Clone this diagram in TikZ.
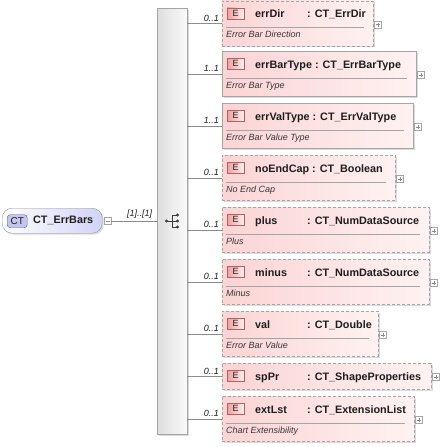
\documentclass[tikz,border=0pt]{standalone}
\usepackage{fontspec}
\setmainfont{Liberation Sans}
\usetikzlibrary{positioning, shadows, calc}
\definecolor{figBd}{RGB}{165,165,165}
\definecolor{figLn}{RGB}{140,140,140}
\definecolor{figPk}{RGB}{251,212,212}
\definecolor{figPkL}{RGB}{255,242,242}
\definecolor{figEbd}{RGB}{184,96,96}
\definecolor{figEf}{RGB}{238,160,160}
\definecolor{figCTf}{RGB}{196,196,238}
\definecolor{figCTbd}{RGB}{96,96,150}
\definecolor{figLav}{RGB}{210,210,246}
\definecolor{figRbd}{RGB}{150,150,170}
\definecolor{figTx}{RGB}{30,30,30}
\definecolor{figDoc}{RGB}{55,55,55}
\definecolor{figIc}{RGB}{60,60,60}
% element name padded to a fixed column
\newcommand{\elname}[1]{\setbox0\hbox{#1\ }\ifdim\wd0<52pt\makebox[52pt][l]{#1}\else\box0\fi}
\tikzset{
  shadowed/.style={drop shadow={shadow xshift=1.5pt, shadow yshift=-1.5pt, fill=black!14, opacity=1}},
  elbox/.style={draw=figBd, left color=figPk, right color=figPkL, inner sep=0pt, anchor=north west, shadowed},
  optbox/.style={elbox, dash pattern=on 3pt off 2pt},
  reqbox/.style={elbox, solid},
  ebadge/.style={draw=figEbd, left color=figEf, right color=figPkL, minimum width=17pt, minimum height=11pt,
    inner sep=0pt, anchor=north west, font=\fontsize{9}{9}\selectfont, text=figTx},
  nametext/.style={font=\fontsize{10.8}{12}\selectfont\bfseries, text=figTx, inner sep=0pt},
  doctext/.style={font=\fontsize{9}{10}\selectfont\itshape, text=figDoc, inner sep=0pt, anchor=base west},
  mult/.style={font=\fontsize{9}{10}\selectfont\itshape, text=figTx, inner sep=0pt},
  togbox/.style={draw=figBd, fill=white, minimum size=7pt, inner sep=0pt, anchor=west},
  rootbox/.style={draw=figRbd, rounded corners=10pt, left color=white, right color=figLav,
    minimum width=100pt, minimum height=25pt, inner sep=0pt, anchor=north west, shadowed},
  ctbadge/.style={draw=figCTbd, fill=figCTf, rounded corners=3pt, minimum width=20pt, minimum height=13pt,
    inner sep=0pt, anchor=north west, font=\fontsize{10}{10}\selectfont, text=figTx},
  seqbox/.style={draw=figBd, left color=black!13, right color=black!2, minimum width=30pt,
    minimum height=426pt, inner sep=0pt, anchor=north west, shadowed}
}
\begin{document}
\begin{tikzpicture}[x=1pt, y=-1pt]
\useasboundingbox (0,0) rectangle (440,447);
% ======== root: CT_ErrBars ========
\node[rootbox] (root) at (2,208) {};
\node[ctbadge] (rootct) at (7,214.5) {CT};
\node[nametext, anchor=west] (rootname) at (33,220.5) {CT\_ErrBars};
\node[togbox] (rootmin) at (104,221) {};
\draw[figLn] ($(rootmin.center)+(-2,0)$) -- ($(rootmin.center)+(2,0)$);
% ======== sequence panel ========
\node[seqbox] (seq) at (157,8) {};
\draw[figLn] (rootmin.east) -- (seq.west |- rootmin.east)
  node[mult, pos=0.62, above=2pt] {[1]..[1]};
% sequence icon
\coordinate (seqicon) at (172,221);
\draw[figIc, line width=0.8pt] ($(seqicon)+(-5,0)$) -- (seqicon)
  ($(seqicon)+(0,-6)$) -- ($(seqicon)+(0,6)$);
\foreach \dy in {-6,0,6}
  \draw[figIc, line width=0.8pt] ($(seqicon)+(0,\dy)$) -- ($(seqicon)+(5.5,\dy)$);
\fill[figIc] ($(seqicon)+(-5.5,0)$) circle[radius=1.7];
\foreach \dy in {-6,0,6}
  \fill[figIc] ($(seqicon)+(5.5,\dy)$) circle[radius=1.7];
% ======== child elements with documentation ========
% name / type / doc / top / right edge / multiplicity / border
\foreach \nm/\ty/\doc/\top/\rt/\ml/\sty in {
  errDir/CT\_ErrDir/Error Bar Direction/0.5/373/0..1/optbox,
  errBarType/CT\_ErrBarType/Error Bar Type/51/416/1..1/reqbox,
  errValType/CT\_ErrValType/Error Bar Value Type/103/413/1..1/reqbox,
  noEndCap/CT\_Boolean/No End Cap/155/395/0..1/optbox,
  plus/CT\_NumDataSource/Plus/207/429/0..1/optbox,
  minus/CT\_NumDataSource/Minus/259/429/0..1/optbox,
  val/CT\_Double/Error Bar Value/311/378/0..1/optbox,
  extLst/CT\_ExtensionList/Chart Extensibility/396/414/0..1/optbox}
{
  \node[\sty, minimum width=\rt-222, minimum height=45] (\nm) at (222,\top) {};
  \node[ebadge] (\nm-e) at (227,\top+7) {E};
  \node[nametext, anchor=base west] (\nm-name) at (255,\top+17) {\elname{\nm}: \ty};
  \draw[figBd] (226,\top+27) -- (\rt-9,\top+27);
  \node[doctext] (\nm-doc) at (226,\top+37) {\doc};
  \node[togbox] (\nm-tog) at (\rt+1,\top+24) {};
  \draw[figLn] ($(\nm-tog.center)+(-2,0)$) -- ($(\nm-tog.center)+(2,0)$)
    ($(\nm-tog.center)+(0,-2)$) -- ($(\nm-tog.center)+(0,2)$);
  \draw[figLn] (seq.east |- \nm.west) -- (\nm.west);
  \node[mult, anchor=base east] (\nm-ml) at ($(\nm.west)+(-3,-2)$) {\ml};
}
% ======== spPr: no documentation line ========
\node[optbox, minimum width=209, minimum height=26] (spPr) at (222,363) {};
\node[ebadge] (spPr-e) at (227,370) {E};
\node[nametext, anchor=base west] (spPr-name) at (255,380) {\elname{spPr}: CT\_ShapeProperties};
\node[togbox] (spPr-tog) at (432,377) {};
\draw[figLn] ($(spPr-tog.center)+(-2,0)$) -- ($(spPr-tog.center)+(2,0)$)
  ($(spPr-tog.center)+(0,-2)$) -- ($(spPr-tog.center)+(0,2)$);
\draw[figLn] (seq.east |- spPr.west) -- (spPr.west);
\node[mult, anchor=base east] (spPr-ml) at ($(spPr.west)+(-3,-2)$) {0..1};
\end{tikzpicture}
\end{document}
